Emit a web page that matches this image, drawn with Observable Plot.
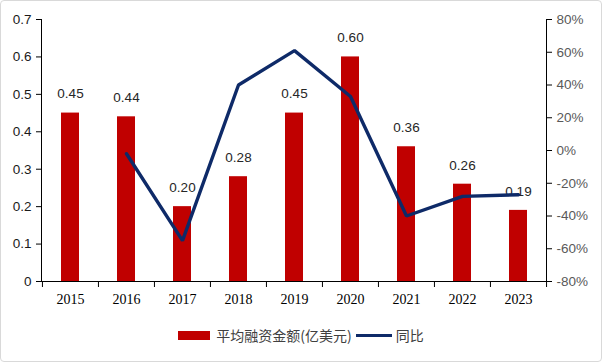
<!DOCTYPE html>
<html><head><meta charset="utf-8">
<script src="https://cdn.jsdelivr.net/npm/d3@7"></script>
<script src="https://cdn.jsdelivr.net/npm/@observablehq/plot@0.6"></script>
<style>
body{margin:0;background:#fff;}
#wrap{position:relative;width:602px;height:362px;overflow:hidden;background:#fff;}
#border{position:absolute;left:0;top:0;width:600px;height:360px;border:1px solid #d9d9d9;border-radius:4px;pointer-events:none;}
#chart svg{display:block;}
#legend{position:absolute;left:0;top:318px;width:602px;height:34px;display:flex;justify-content:center;align-items:center;font-family:"Noto Sans CJK SC","Noto Sans",sans-serif;font-size:14px;color:#404040;}
.sw-bar{display:inline-block;width:32px;height:9px;background:#C00000;margin-right:6px;}
.sw-line{display:inline-block;width:36px;height:3px;background:#0E2A68;margin:0 4px 0 4px;}
</style></head>
<body>
<div id="wrap">
<div id="chart"></div>
<div id="legend"><span class="sw-bar"></span><span>平均融资金额(亿美元)</span><span class="sw-line"></span><span>同比</span></div>
<div id="border"></div>
</div>
<script>
const years = ["2015","2016","2017","2018","2019","2020","2021","2022","2023"];
const amount = [0.45,0.44,0.20,0.28,0.45,0.60,0.36,0.26,0.19];
const yoy = [null,-2,-55,40,61,33,-40,-28,-27];
const ticksLeft = [0,0.1,0.2,0.3,0.4,0.5,0.6,0.7];
const ticksRight = [-80,-60,-40,-20,0,20,40,60,80];

const W=602,H=318,mL=41,mR=56,mT=19,mB=37;
const step=(W-mL-mR)/years.length;
const leftMax=0.7;
const toL = v => (v+80)/160*leftMax;
const fromL = d => Math.round(d/leftMax*160-80);
const tickLen = 6/(H-mT-mB)*leftMax;
const data = years.map((y,i)=>({year:y, amount:amount[i], yoy:yoy[i]}));

const chart = Plot.plot({
  width:W,height:H,marginLeft:mL,marginRight:mR,marginTop:mT,marginBottom:mB,
  style:{fontFamily:"'Liberation Sans', Arial, sans-serif",fontSize:"13px",background:"transparent",color:"#000"},
  x:{domain:years,paddingInner:0.68,paddingOuter:0.34},
  y:{domain:[0,leftMax]},
  marks:[
    Plot.barY(data,{x:"year",y:"amount",fill:"#C00000"}),
    Plot.text(data,{x:"year",y:"amount",text:d=>d.amount.toFixed(2),dy:-19,fontSize:13.5,fill:"#262626"}),
    Plot.lineY(data.filter(d=>d.yoy!=null),{x:"year",y:d=>toL(d.yoy),stroke:"#0E2A68",strokeWidth:3.4,strokeLinejoin:"miter"}),
    Plot.ruleY([0],{stroke:"#000"}),
    Plot.frame({anchor:"left",stroke:"#000"}),
    Plot.frame({anchor:"right",stroke:"#000"}),
    Plot.axisY(ticksLeft,{anchor:"left",tickSize:5,tickPadding:5,tickFormat:d=>d===0?"0":d.toFixed(1),fill:"#1a1a1a",fontSize:13.5,label:null}),
    Plot.axisY(ticksRight.map(toL),{anchor:"right",tickSize:5,tickPadding:5,tickFormat:d=>fromL(d)+"%",fill:"#595959",fontSize:13.5,label:null}),
    Plot.axisX({tickSize:0,tickPadding:13,fontFamily:"'Liberation Serif', 'Times New Roman', serif",fontSize:14,fill:"#000",label:null}),
    Plot.ruleX(years,{x:d=>d,y1:0,y2:-tickLen,dx:-step/2,stroke:"#000"}),
    Plot.ruleX([years[years.length-1]],{x:d=>d,y1:0,y2:-tickLen,dx:step/2,stroke:"#000"})
  ]
});
document.getElementById("chart").appendChild(chart);
</script>
</body></html>
